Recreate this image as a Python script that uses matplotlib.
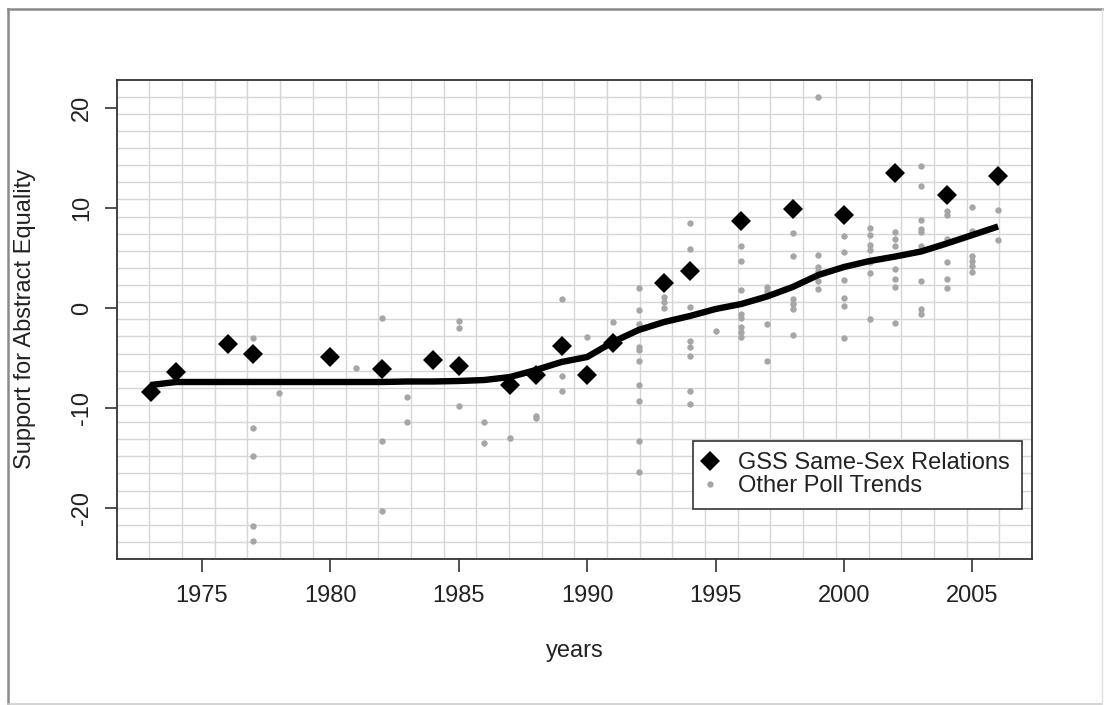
import numpy as np
import matplotlib
matplotlib.use("Agg")
import matplotlib.pyplot as plt
from matplotlib.lines import Line2D

plt.rcParams['font.family'] = ['Liberation Sans', 'DejaVu Sans']

# ---- data ----
gss_years = [1973, 1974, 1976, 1977, 1980, 1982, 1984, 1985, 1987, 1988, 1989,
             1990, 1991, 1993, 1994, 1996, 1998, 2000, 2002, 2004, 2006]
gss_vals = [-8.4, -6.4, -3.6, -4.6, -4.85, -6.1, -5.2, -5.75, -7.7, -6.65, -3.75,
            -6.65, -3.5, 2.5, 3.75, 8.7, 9.9, 9.3, 13.5, 11.3, 13.2]

other_polls = {
    1977: [-3.0, -12.0, -14.8, -21.75, -23.25],
    1978: [-8.5],
    1981: [-6.0],
    1982: [-1.0, -13.25, -20.25],
    1983: [-8.9, -11.4],
    1985: [-1.3, -2.0, -9.75],
    1986: [-11.4, -13.5],
    1987: [-13.0],
    1988: [-10.75, -11.0],
    1989: [0.9, -6.75, -8.25],
    1990: [-2.9],
    1991: [-1.4],
    1992: [2.0, -0.2, -1.6, -3.9, -4.2, -5.3, -7.7, -9.25, -13.25, -16.4],
    1993: [1.1, 0.6, 0.0],
    1994: [8.5, 5.9, 0.15, -3.3, -3.85, -4.75, -8.25, -9.6],
    1995: [-2.25],
    1996: [6.25, 4.75, 1.8, -0.6, -1.0, -1.9, -2.4, -2.9],
    1997: [2.1, 1.75, -1.6, -5.3],
    1998: [7.5, 5.25, 0.9, 0.4, -0.1, -2.65],
    1999: [21.1, 5.35, 4.15, 3.75, 2.75, 1.9],
    2000: [7.25, 5.65, 2.8, 1.0, 0.25, -3.0],
    2001: [8.0, 7.3, 6.3, 5.8, 4.6, 3.5, -1.1],
    2002: [7.6, 6.9, 6.25, 3.9, 2.9, 2.1, -1.5],
    2003: [14.25, 12.25, 8.8, 7.9, 7.6, 6.25, 2.7, -0.1, -0.6],
    2004: [9.75, 9.3, 6.9, 4.65, 2.9, 2.0],
    2005: [10.15, 7.75, 5.25, 4.75, 4.25, 3.6],
    2006: [9.8, 6.8],
}

trend_years = [1973, 1974, 1976, 1977, 1978, 1980, 1981, 1982, 1983, 1984, 1985,
               1986, 1987, 1988, 1989, 1990, 1991, 1992, 1993, 1994, 1995, 1996,
               1997, 1998, 1999, 2000, 2001, 2002, 2003, 2004, 2005, 2006]
trend_vals = [-7.7, -7.4, -7.4, -7.4, -7.4, -7.4, -7.4, -7.4, -7.35, -7.35, -7.3,
              -7.2, -6.9, -6.2, -5.4, -4.9, -3.4, -2.2, -1.4, -0.8, -0.1, 0.4,
              1.15, 2.1, 3.3, 4.1, 4.7, 5.15, 5.65, 6.45, 7.3, 8.15]

x_ticks = [1975, 1980, 1985, 1990, 1995, 2000, 2005]
y_ticks = [-20, -10, 0, 10, 20]

series_labels = ["GSS Same-Sex Relations", "Other Poll Trends"]
x_label = "years"
y_label = "Support for Abstract Equality"

# ---- figure ----
W, H = 1107, 705
fig = plt.figure(figsize=(W / 100, H / 100), dpi=100)
L, R, T, B = 116.7, 1032.0, 79.5, 559.0
ax = fig.add_axes([L / W, 1 - B / H, (R - L) / W, (B - T) / H])

xmin, xmax = 1971.68, 2007.32
ymin, ymax = -25.1, 22.85
ax.set_xlim(xmin, xmax)
ax.set_ylim(ymin, ymax)

grid_col = '#d6d6d6'
for gx in np.linspace(xmin, xmax, 29)[1:-1]:
    ax.axvline(gx, color=grid_col, lw=1.0, zorder=0)
for gy in np.linspace(ymin, ymax, 29)[1:-1]:
    ax.axhline(gy, color=grid_col, lw=1.0, zorder=0)

ox, oy = [], []
for yr, vals in other_polls.items():
    for v in vals:
        ox.append(yr)
        oy.append(v)
ax.plot(ox, oy, 'o', color='#a6a6a6', ms=4.6, mew=0, zorder=2)
ax.plot(gss_years, gss_vals, 'D', color='black', ms=9.8, mew=0, zorder=3)
ax.plot(trend_years, trend_vals, '-', color='black', lw=4.6,
        solid_capstyle='butt', zorder=4)

ax.set_xticks(x_ticks)
ax.set_yticks(y_ticks)
ax.set_xticklabels([str(t) for t in x_ticks])
ax.set_yticklabels([str(t) for t in y_ticks], rotation=90, va='center')
ax.tick_params(axis='x', length=9, width=1.2, color='#333333', pad=10,
               labelsize=17, labelcolor='#222222')
ax.tick_params(axis='y', length=9, width=1.2, color='#333333', pad=8,
               labelsize=17, labelcolor='#222222')
for s in ax.spines.values():
    s.set_color('#333333')
    s.set_linewidth(1.3)

fig.text(25 / W, 1 - 319 / H, y_label, rotation=90, ha='center', va='center',
         fontsize=17, color='#222222')
fig.text(574.5 / W, 1 - 651 / H, x_label, ha='center', va='center',
         fontsize=17, color='#222222')

handles = [
    Line2D([], [], marker='D', color='black', ls='none', ms=9.8, mew=0),
    Line2D([], [], marker='o', color='#a6a6a6', ls='none', ms=4.6, mew=0),
]
leg = ax.legend(handles, series_labels, loc='lower right',
                bbox_to_anchor=((1021.7 - L) / (R - L), (B - 509.3) / (B - T)),
                borderaxespad=0, fontsize=17, frameon=True, fancybox=False,
                framealpha=1, edgecolor='#333333', handlelength=0.45,
                handletextpad=0.95, borderpad=0.5, labelspacing=0.05)
leg.get_frame().set_linewidth(1.2)
for t in leg.get_texts():
    t.set_color('#222222')

# outer border of the image
fig.add_artist(Line2D([8 / W, 8 / W], [1 - 9 / H, 1 - 704 / H], color='#8a8a8a', lw=1.8))
fig.add_artist(Line2D([8 / W, 1102 / W], [1 - 9 / H, 1 - 9 / H], color='#8a8a8a', lw=1.8))
fig.add_artist(Line2D([8 / W, 1102 / W], [1 - 704 / H, 1 - 704 / H], color='#cccccc', lw=1.2))
fig.add_artist(Line2D([1102 / W, 1102 / W], [1 - 9 / H, 1 - 704 / H], color='#e0e0e0', lw=1.0))

fig.savefig('out.png', dpi=100, facecolor='white')
